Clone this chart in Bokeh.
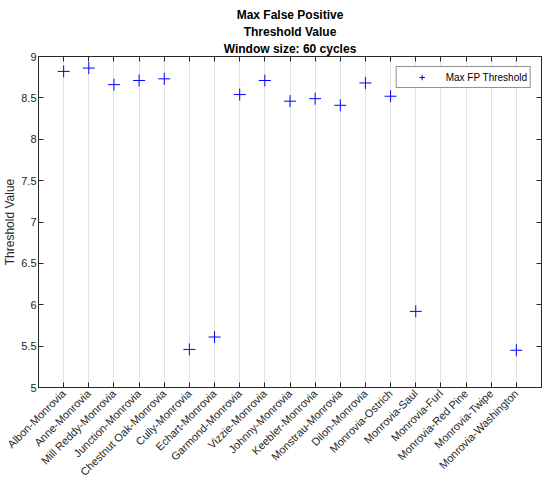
import math
from bokeh.plotting import figure
from bokeh.models import LinearAxis, FixedTicker, Range1d, ColumnDataSource, Legend, LegendItem, Title, Grid
from bokeh.embed import file_html
from bokeh.resources import INLINE

links = ["Albon-Monrovia", "Anne-Monrovia", "Mill Reddy-Monrovia", "Junction-Monrovia",
         "Chestnut Oak-Monrovia", "Cully-Monrovia", "Echart-Monrovia", "Garmond-Monrovia",
         "Vizzie-Monrovia", "Johnny-Monrovia", "Keebler-Monrovia", "Monstrau-Monrovia",
         "Dilon-Monrovia", "Monrovia-Ostrich", "Monrovia-Saul", "Monrovia-Furl",
         "Monrovia-Red Pine", "Monrovia-Twipe", "Monrovia-Washington"]
max_fp = [8.82, 8.86, 8.66, 8.71, 8.73, 5.46, 5.61, 8.54, 8.71, 8.46, 8.49, 8.41,
          8.68, 8.52, 5.92, float("nan"), float("nan"), float("nan"), 5.45]
y_ticks = [5, 5.5, 6, 6.5, 7, 7.5, 8, 8.5, 9]

positions = list(range(1, len(links) + 1))
src = ColumnDataSource(data=dict(x=positions, y=max_fp))

FONT = "Liberation Sans"
TXT = "#262626"

p = figure(width=544, height=485, output_backend="svg", toolbar_location=None,
           x_range=Range1d(0, len(links) + 1), y_range=Range1d(5, 9),
           min_border_left=0, min_border_right=3, min_border_top=56, min_border_bottom=0,
           x_axis_type=None, y_axis_type=None)
p.background_fill_color = "white"
p.border_fill_color = "white"
p.outline_line_color = TXT
p.outline_line_width = 1

xt = FixedTicker(ticks=positions)
yt = FixedTicker(ticks=y_ticks)

xb = LinearAxis(ticker=xt, major_label_overrides={i: s for i, s in zip(positions, links)})
xb.major_label_orientation = math.pi / 4
p.add_layout(xb, "below")
xa = LinearAxis(ticker=xt, major_label_overrides={i: "" for i in positions})
p.add_layout(xa, "above")
yl = LinearAxis(ticker=yt, axis_label="Threshold Value")
p.add_layout(yl, "left")
yr = LinearAxis(ticker=yt, major_label_overrides={v: "" for v in y_ticks})
p.add_layout(yr, "right")

for ax in (xb, xa, yl, yr):
    ax.major_tick_in = 5
    ax.major_tick_out = 0
    ax.minor_tick_line_color = None
    ax.axis_line_color = TXT
    ax.major_tick_line_color = TXT
    ax.major_label_text_font = FONT
    ax.major_label_text_color = TXT
    ax.major_label_text_font_size = "11px"
    ax.major_label_standoff = 2
for ax in (xa, yr):
    ax.major_label_standoff = 0
xb.major_label_text_font_size = "11px"
xb.major_label_standoff = 4
yl.axis_label_text_font = FONT
yl.axis_label_text_font_style = "normal"
yl.axis_label_text_font_size = "12px"
yl.axis_label_text_color = TXT
yl.axis_label_standoff = 1

p.add_layout(Grid(dimension=0, ticker=xt, grid_line_color="#e3e3e3", grid_line_width=1))

r = p.scatter("x", "y", source=src, marker="cross", size=12, line_color="#0000ff",
              line_width=1)

legend = Legend(items=[LegendItem(label="Max FP Threshold", renderers=[r])],
                location="top_right", border_line_color=TXT, border_line_width=1,
                label_text_font=FONT, label_text_font_size="10px", label_text_color="black",
                padding=3, spacing=0, margin=10, glyph_width=44, label_standoff=2,
                label_height=14, glyph_height=14, background_fill_alpha=1)
p.add_layout(legend, "center")

for line in ["Window size: 60 cycles", "Threshold Value", "Max False Positive"]:
    p.add_layout(Title(text=line, align="center", text_font=FONT, text_font_size="12px",
                       text_font_style="bold", text_color="black", standoff=1), "above")

open("out.html", "w").write(file_html(p, INLINE))
